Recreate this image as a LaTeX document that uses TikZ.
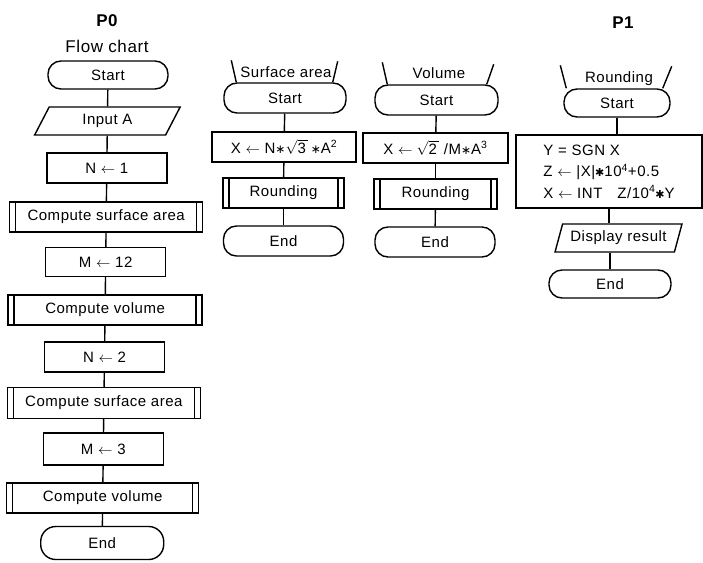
\documentclass[tikz,border=0pt]{standalone}
\usepackage{amsmath}
\usepackage{fontspec}
\setmainfont{Liberation Sans}[LetterSpace=3.5]
\newfontfamily\symfont{DejaVu Sans}
\usetikzlibrary{shapes.geometric,calc}
\newcommand{\boxfont}{\fontsize{15}{21.5}\selectfont}
\newcommand{\titlefont}{\fontsize{17}{20}\selectfont\bfseries}
\newcommand{\mulstar}{{\symfont\fontsize{12}{12}\selectfont ∗}}
\newcommand{\heavystar}{{\symfont\fontsize{11}{11}\selectfont ✱}}

\begin{document}
\begin{tikzpicture}[
  x=1pt,
  y=-1pt,
  every node/.style={font=\boxfont, inner sep=0pt},
  link/.style={line width=1.4pt},
  term/.style={draw, line width=1.4pt, rectangle, rounded corners=13pt,
               minimum width=#1, minimum height=28},
  opbox/.style={draw, line width=1.4pt, minimum width=#1, minimum height=30},
  subproc/.style={opbox=#1,
    path picture={
      \draw[link] ([xshift=6pt]path picture bounding box.north west)
        -- ([xshift=6pt]path picture bounding box.south west);
      \draw[link] ([xshift=-6pt]path picture bounding box.north east)
        -- ([xshift=-6pt]path picture bounding box.south east);}},
  io/.style={draw, line width=1.4pt, trapezium, trapezium left angle=65,
             trapezium right angle=115, trapezium stretches=true,
             minimum width=#1, minimum height=28}
]
  \useasboundingbox (0,0) rectangle (703,562);

  % ---- P0: main flow chart ----
  \node[font=\titlefont] (title0) at (107,21) {P0};
  \node[font=\fontsize{17}{20}\selectfont] (flowlbl) at (107,46) {Flow chart};
  \node[term=120] (start0) at (108,75) {Start};
  \node[io=146] (input) at (107.4,121) {Input A};
  \node[opbox=120] (n1) at (106.8,168) {N $\leftarrow$ 1};
  \node[subproc=193] (csa1) at (106.2,217) {Compute surface area};
  \node[opbox=120, minimum height=29] (m12) at (105.7,262) {M $\leftarrow$ 12};
  \node[subproc=194] (cv1) at (105.1,310) {Compute volume};
  \node[opbox=120] (n2) at (104.5,357) {N $\leftarrow$ 2};
  \node[subproc=193, minimum height=31] (csa2) at (103.9,403) {Compute surface area};
  \node[opbox=120, minimum height=32] (m3) at (103.3,449) {M $\leftarrow$ 3};
  \node[subproc=192] (cv2) at (102.7,498) {Compute volume};
  \node[term=123, minimum height=33, rounded corners=15pt] (end0) at (102.2,543) {End};

  \foreach \a/\b in {start0/input, input/n1, n1/csa1, csa1/m12, m12/cv1,
                     cv1/n2, n2/csa2, csa2/m3, m3/cv2, cv2/end0}
    \draw[link] (\a) -- (\b);

  % ---- surface area routine ----
  \node (salbl) at (286,72) {Surface area};
  \node[term=122, minimum height=30] (sastart) at (285,98) {Start};
  \node[opbox=144] (sax) at (284,147)
    {X $\leftarrow$ N\mulstar$\sqrt{\text{3}\,}$\,\mulstar A\textsuperscript{2}};
  \node[subproc=121] (saround) at (283.5,193) {Rounding};
  \node[term=120, minimum height=30] (saend) at (283.5,241) {End};

  \draw[link] ([xshift=13pt]sastart.north west) -- +(-5,-22);
  \draw[link] ([xshift=-14pt]sastart.north east) -- +(5,-21);
  \foreach \a/\b in {sastart/sax, sax/saround, saround/saend}
    \draw[link] (\a) -- (\b);

  % ---- volume routine ----
  \node (vollbl) at (439,73) {Volume};
  \node[term=123, minimum height=30] (volstart) at (436.5,100) {Start};
  \node[opbox=145] (volx) at (435.5,148)
    {X $\leftarrow\sqrt{\text{2}\,}$ /M\mulstar A\textsuperscript{3}};
  \node[subproc=123] (volround) at (435.5,194) {Rounding};
  \node[term=120, minimum height=30] (volend) at (435,242) {End};

  \draw[link] ([xshift=13pt]volstart.north west) -- +(-5,-22);
  \draw[link] ([xshift=-12pt]volstart.north east) -- +(7,-20);
  \foreach \a/\b in {volstart/volx, volx/volround, volround/volend}
    \draw[link] (\a) -- (\b);

  % ---- P1: rounding routine ----
  \node[font=\titlefont] (title1) at (623,23) {P1};
  \node (rndlbl) at (619,79) {Rounding};
  \node[term=106] (rndstart) at (617,103) {Start};
  \node[opbox=186, minimum height=73, align=left] (rndcalc) at (609,171.5)
    {Y = SGN X\\
     Z $\leftarrow$ |X|\heavystar 10\textsuperscript{4}+0.5\\
     X $\leftarrow$ INT\quad Z/10\textsuperscript{4}\heavystar Y};
  \node[io=127] (rnddisp) at (618.5,238) {Display result};
  \node[term=122] (rndend) at (610,284) {End};

  \draw[link] ([xshift=3pt]rndstart.north west) -- +(-6,-23);
  \draw[link] ([xshift=-8pt]rndstart.north east) -- +(9,-22);
  \draw[link] (rndstart.south) -- (rndstart.south |- rndcalc.north);
  \draw[link] (rndcalc.south) -- (rndcalc.south |- rnddisp.north);
  \draw[link] (rndend.north) -- (rndend.north |- rnddisp.south);
\end{tikzpicture}
\end{document}
